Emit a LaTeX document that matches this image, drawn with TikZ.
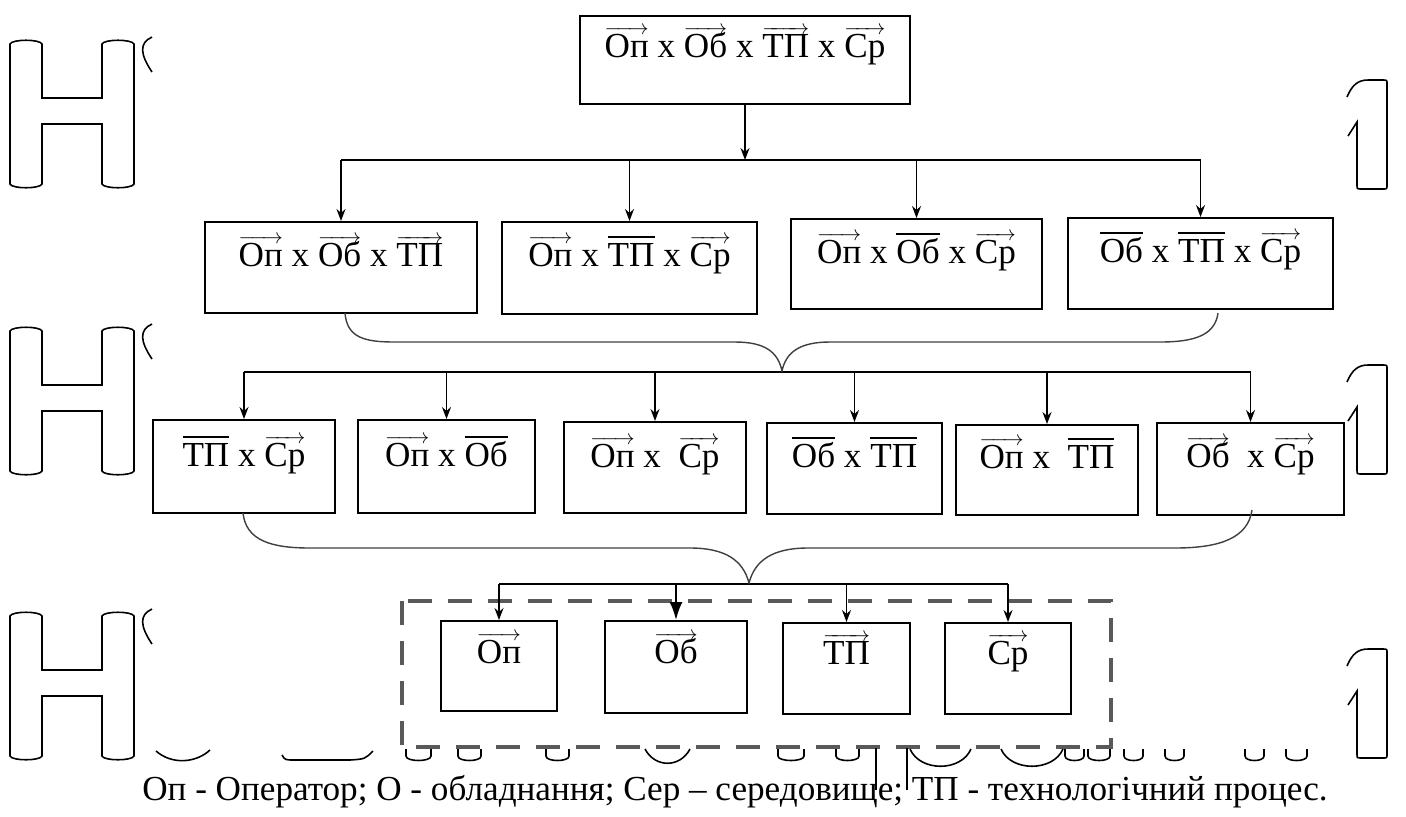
\documentclass[tikz,border=0pt]{standalone}
\usepackage{fontspec}
\setmainfont{Liberation Serif}
\usetikzlibrary{arrows.meta}

\newsavebox{\termbox}
\newcommand{\vecterm}[1]{\sbox{\termbox}{#1}\rlap{\raisebox{13.4pt}{\hbox to \wd\termbox{\fontsize{13}{13}\selectfont\rightarrowfill}}}\usebox{\termbox}}
\newcommand{\barterm}[1]{\sbox{\termbox}{#1}\rlap{\raisebox{16.6pt}{\rule{\wd\termbox}{0.7pt}}}\usebox{\termbox}}

\tikzset{
  cell/.style n args={3}{draw, line width=.9pt, anchor=north, inner sep=0pt,
    minimum width=#1*0.02cm, text height=#2*0.02cm, text depth=#3*0.02cm},
  feed/.style={line width=.8pt},
  tip/.style={-{Stealth[length=0.24cm,width=0.18cm]}, line width=.8pt},
  bigtip/.style={-{Latex[length=0.36cm,width=0.26cm]}, line width=1.2pt},
  curly/.style={line width=.8pt, draw=black!75},
  groupbox/.style={draw=black!65, line width=2.4pt, dash pattern=on 0.48cm off 0.32cm},
  noise/.style={line width=.9pt}
}

\begin{document}
\begin{tikzpicture}[x=0.02cm, y=-0.02cm, font=\fontsize{20}{24}\selectfont]
\useasboundingbox (0,0) rectangle (1406,816);

% top level
\node[cell={330}{42}{46}] (top) at (745,15) {\vecterm{Оп} x \vecterm{Об} x \vecterm{ТП} x \vecterm{Ср}};

% second level
\node[cell={272}{45}{46}] (b21) at (341,221) {\vecterm{Оп} x \vecterm{Об} x \vecterm{ТП}};
\node[cell={255}{45}{47}] (b22) at (629.5,221) {\vecterm{Оп} x \barterm{ТП} x \vecterm{Ср}};
\node[cell={251}{45}{45}] (b23) at (916.5,218) {\vecterm{Оп} x \barterm{Об} x \vecterm{Ср}};
\node[cell={265}{45}{46}] (b24) at (1200.5,217) {\barterm{Об} x \barterm{ТП} x \vecterm{Ср}};

% third level
\node[cell={182}{47}{46}] (b31) at (244,419) {\barterm{ТП} x \vecterm{Ср}};
\node[cell={177}{47}{46}] (b32) at (446.5,419) {\vecterm{Оп} x \barterm{Об}};
\node[cell={182}{46}{45}] (b33) at (655,421) {\vecterm{Оп} x\ \ \vecterm{Ср}};
\node[cell={175}{45}{46}] (b34) at (854.5,422) {\barterm{Об} x \barterm{ТП}};
\node[cell={182}{44}{46}] (b35) at (1047,424) {\vecterm{Оп} x\ \ \barterm{ТП}};
\node[cell={187}{45}{47}] (b36) at (1250.5,422) {\vecterm{Об}\ \ x \vecterm{Ср}};

% fourth level
\draw[groupbox] (402,601) rectangle (1111,747);
\node[cell={116}{43}{47}] (b41) at (499,620) {\vecterm{Оп}};
\node[cell={142}{43}{49}] (b42) at (676,620) {\vecterm{Об}};
\node[cell={127}{42}{49}] (b43) at (846.5,622) {\vecterm{ТП}};
\node[cell={126}{42}{49}] (b44) at (1008,622) {\vecterm{Ср}};

% buses and arrows
\coordinate (bus1) at (0,160);
\coordinate (bus2) at (0,372);
\coordinate (bus3) at (0,584);
\draw[tip] (top.south) -- (top.south |- bus1);
\draw[feed] (b21.north |- bus1) -- (b24.north |- bus1);
\foreach \b in {b21,b22,b23,b24}
  \draw[tip] (\b.north |- bus1) -- (\b.north);
\draw[feed] (b31.north |- bus2) -- (b36.north |- bus2);
\foreach \b in {b31,b32,b33,b34,b35,b36}
  \draw[tip] (\b.north |- bus2) -- (\b.north);
\draw[feed] (b41.north |- bus3) -- (b44.north |- bus3);
\foreach \b in {b41,b43,b44}
  \draw[tip] (\b.north |- bus3) -- (\b.north);
\draw[bigtip] (b42.north |- bus3) -- (b42.north);

% braces
\draw[curly] (345,313) .. controls (347,338) and (365,342) .. (395,342) -- (735,342)
  .. controls (765,342) and (778,352) .. (782,371) .. controls (786,352) and (800,342) .. (830,342)
  -- (1160,342) .. controls (1195,342) and (1215,335) .. (1218,313);
\draw[curly] (243,513) .. controls (246,540) and (270,548) .. (310,548) -- (690,548)
  .. controls (725,548) and (743,560) .. (749,583) .. controls (755,560) and (773,548) .. (808,548)
  -- (1175,548) .. controls (1220,548) and (1248,538) .. (1252,510);

% legend
\node[anchor=base] (legend) at (735,800) {Оп - Оператор; О - обладнання; Сер – середовище; ТП - технологічний процес.};

% scan marks on the left
\foreach \y in {40,327,612} {
  \draw[noise] (10,\y+4) .. controls (12,\y-1) and (40,\y-1) .. (42,\y+4) -- (42,\y+58) -- (102,\y+58)
    -- (102,\y+4) .. controls (104,\y-1) and (132,\y-1) .. (134,\y+4) -- (134,\y+144)
    .. controls (132,\y+149) and (104,\y+149) .. (102,\y+144) -- (102,\y+84) -- (42,\y+84)
    -- (42,\y+144) .. controls (40,\y+149) and (12,\y+149) .. (10,\y+144) -- cycle;
  \draw[noise] (152,\y-3) .. controls (139,\y+3) and (140,\y+14) .. (152,\y+32);
}
% scan marks on the right
\foreach \y in {80,365,649}
  \draw[noise] (1347,\y+17) .. controls (1352,\y+5) and (1358,\y) .. (1368,\y) -- (1383,\y)
    .. controls (1387,\y) .. (1387,\y+4) -- (1387,\y+105) .. controls (1387,\y+109) .. (1383,\y+109)
    -- (1360,\y+109) .. controls (1357,\y+109) .. (1357,\y+105) -- (1357,\y+42) -- (1348,\y+56);
% scan marks at the bottom
\foreach \a/\b in {406/431,458/481,546/569,778/804,836/859,1065/1084,1088/1110,1124/1143,1165/1184,1245/1264,1286/1307}
  \draw[noise] (\a,749) -- (\a,756) .. controls (\a,762) and (\b,762) .. (\b,756) -- (\b,749);
\draw[noise] (156,751) .. controls (172,765) and (196,763) .. (210,750);
\draw[noise] (282,755) .. controls (285,760) .. (295,760) -- (350,760) .. controls (365,759) .. (373,751);
\draw[noise] (645,749) .. controls (655,768) and (680,768) .. (690,749);
\draw[noise] (910,749) .. controls (920,772) and (961,772) .. (971,749);
\draw[noise] (1001,749) .. controls (1011,772) and (1053,772) .. (1063,749);
\draw[noise] (876,748) -- (876,790);
\draw[noise] (907,748) -- (907,790);
\end{tikzpicture}
\end{document}
